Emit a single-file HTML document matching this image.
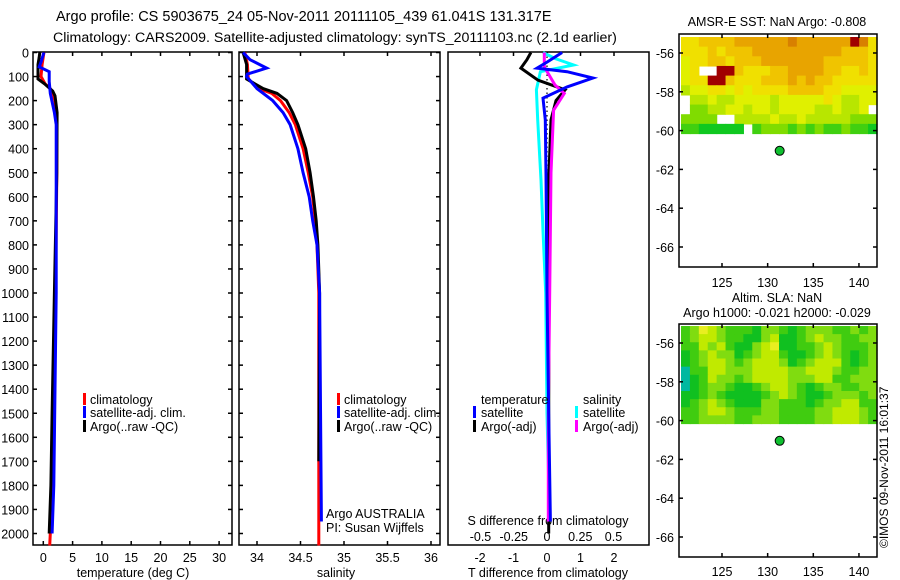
<!DOCTYPE html>
<html><head><meta charset="utf-8">
<style>
html,body{margin:0;padding:0;background:#fff;}
svg{display:block;font-family:"Liberation Sans",sans-serif;}
text{fill:#000;}
</style></head>
<body>
<svg id="fig" width="900" height="580" viewBox="0 0 900 580" xmlns="http://www.w3.org/2000/svg">
<text x="56" y="21" font-size="14.5">Argo profile: CS 5903675_24 05-Nov-2011 20111105_439 61.041S 131.317E</text>
<text x="53" y="42" font-size="14.2">Climatology: CARS2009. Satellite-adjusted climatology: synTS_20111103.nc (2.1d earlier)</text>
</svg>
<script>
// ---- data ----
const depthTicks=[0,100,200,300,400,500,600,700,800,900,1000,1100,1200,1300,1400,1500,1600,1700,1800,1900,2000];
const tempTicks=[0,5,10,15,20,25,30];
const salTicks=[34,34.5,35,35.5,36];
const tdTicks=[-2,-1,0,1,2];
const sdTicks=[-0.5,-0.25,0,0.25,0.5];
const lonTicks=[125,130,135,140];
const latTicks=[-56,-58,-60,-62,-64,-66];

const tClimDepth=[0,50,100,130,150,200,300,500,1000,1500,2000,2050];
const tClimVal=[0.1,-0.2,-0.4,0.3,1.2,2.0,2.3,2.3,2.1,1.6,1.2,1.1];
const tSatDepth=[0,40,60,80,120,170,250,300,600,1000,1400,1800,2000];
const tSatVal=[0.1,-0.4,-0.7,1.0,1.0,1.2,1.9,2.2,2.2,2.2,2.0,1.8,1.5];
const tArgoDepth=[0,20,50,110,130,160,180,250,500,1000,1500,1800,2000];
const tArgoVal=[-0.6,-0.7,-0.9,-0.9,0.2,1.6,2.0,2.35,2.3,1.9,1.5,1.3,1.0];

const sClimDepth=[0,50,110,150,170,200,250,300,400,500,600,700,800,1000,2000,2050];
const sClimVal=[33.86,33.89,33.9,34.02,34.17,34.27,34.37,34.44,34.53,34.59,34.64,34.67,34.69,34.71,34.71,34.71];
const sSatDepth=[0,30,65,90,100,150,200,250,300,400,500,600,700,800,1000,1950];
const sSatVal=[33.84,33.92,34.11,33.89,33.88,34.0,34.18,34.3,34.38,34.47,34.53,34.6,34.64,34.69,34.72,34.74];
const sArgoDepth=[0,50,110,150,170,200,250,300,400,500,600,700,800,1000,1700];
const sArgoVal=[33.84,33.88,33.88,34.07,34.23,34.34,34.41,34.47,34.56,34.61,34.65,34.68,34.7,34.72,34.71];

const dtSatDepth=[0,40,65,80,106,143,190,280,510,1000,1500,1950];
const dtSatVal=[0.45,0.0,-0.3,0.6,1.37,0.6,-0.12,-0.05,-0.03,0.0,0.05,0.1];
const dtArgoDepth=[0,30,65,115,155,200,280,500,1000,1500,2000];
const dtArgoVal=[-0.48,-0.6,-0.78,-0.27,0.54,0.27,0.12,0.06,0.06,0.05,0.05];
const dsSatDepth=[0,25,52,80,155,280,530,740,1000,1500,1950];
const dsSatVal=[-0.03,0.06,0.2,-0.05,-0.08,-0.07,-0.045,-0.03,-0.01,0.0,0.02];
const dsArgoDepth=[0,60,135,170,240,500,1000,1500,1950];
const dsArgoVal=[-0.02,-0.02,0.06,0.13,0.05,0.03,0.02,0.01,0.01];

const sstRows=[
"5566667777778777777985",
"5556566677777777776665",
"4556656667777777666665",
"45--996555667777665565",
"4559965556667676655555",
"3445545455556666554444",
"-334334444344444543344",
"-22334434434444334334",
"2222--3333433433333222",
"1100000-12221212112110"];
const slaRows=[
"2354322213321233322323",
"2344322113411234332233",
"2243421134511223432223",
"1234331234421123432123",
"1234432344431234442123",
"0224433344443344432233",
"0124332344443334422333",
"0123321123443212332233",
"1123211112343211233323",
"1234321113322212334422",
"2234432223322223344432",
"2233332233322223344432"];

// ---- helpers ----
const svg=document.getElementById('fig');
const NS='http://www.w3.org/2000/svg';
function mk(tag,attrs,parent){const e=document.createElementNS(NS,tag);for(const k in attrs)e.setAttribute(k,attrs[k]);(parent||svg).appendChild(e);return e;}
const yD=d=>52.5+d*0.2405;
const xT=v=>43.3+v*5.86;
const xS=v=>257+(v-34)*87;
const xDT=v=>547+v*33.5;
const xDS=v=>547+v*133;
function line(xf,dep,val,color,w,name,dash){
  const pts=dep.map((d,i)=>xf(val[i]).toFixed(1)+','+yD(d).toFixed(1)).join(' ');
  const p=mk('polyline',{points:pts,fill:'none',stroke:color,'stroke-width':w});
  if(dash)p.setAttribute('stroke-dasharray',dash);
  
  
}
function txt(x,y,s,size,anchor,name){
  const t=mk('text',{x:x,y:y,'font-size':size,'text-anchor':anchor||'start'});t.textContent=s;
  
  
  return t;
}
function box(x1,y1,x2,y2,name){
  const r=mk('rect',{x:x1,y:y1,width:x2-x1,height:y2-y1,fill:'none',stroke:'#000','stroke-width':1.5});
  
  
}
function tick(x1,y1,x2,y2){const l=mk('line',{x1:x1,y1:y1,x2:x2,y2:y2,stroke:'#000','stroke-width':1.5});
  
  }
function legBar(x,y,c){const r=mk('rect',{x:x,y:y,width:3,height:12,fill:c});
  
  }

// ---- panel 1: temperature ----
box(33,52,232,545,'temperature-axes');
depthTicks.forEach(d=>{tick(33,yD(d),37,yD(d));tick(228,yD(d),232,yD(d));txt(29,yD(d)+5,String(d),12.5,'end','depth-tick-label');});
tempTicks.forEach(v=>{tick(xT(v),52,xT(v),56);tick(xT(v),541,xT(v),545);txt(xT(v),562,String(v),12.5,'middle','temp-tick-label');});
txt(133,577,'temperature (deg C)',12.5,'middle','temperature-axis-title');
line(xT,tClimDepth,tClimVal,'#f00',3,'temp-climatology-line');
line(xT,tArgoDepth,tArgoVal,'#000',3,'temp-argo-line');
line(xT,tSatDepth,tSatVal,'#00f',3,'temp-satellite-line');
legBar(83,393,'#f00');txt(90,404,'climatology',12.5,'start','legend-climatology');
legBar(83,406,'#00f');txt(90,417,'satellite-adj. clim.',12.5,'start','legend-satellite');
legBar(83,420,'#000');txt(90,431,'Argo(..raw -QC)',12.5,'start','legend-argo');

// ---- panel 2: salinity ----
box(239,52,440,545,'salinity-axes');
depthTicks.forEach(d=>{tick(239,yD(d),243,yD(d));tick(436,yD(d),440,yD(d));});
salTicks.forEach(v=>{tick(xS(v),52,xS(v),56);tick(xS(v),541,xS(v),545);txt(xS(v),562,String(v),12.5,'middle','salinity-tick-label');});
txt(336,577,'salinity',12.5,'middle','salinity-axis-title');
line(xS,sClimDepth,sClimVal,'#f00',3,'sal-climatology-line');
line(xS,sArgoDepth,sArgoVal,'#000',3,'sal-argo-line');
line(xS,sSatDepth,sSatVal,'#00f',3,'sal-satellite-line');
legBar(337,393,'#f00');txt(344,404,'climatology',12.5,'start','legend-climatology');
legBar(337,406,'#00f');txt(344,417,'satellite-adj. clim.',12.5,'start','legend-satellite');
legBar(337,420,'#000');txt(344,431,'Argo(..raw -QC)',12.5,'start','legend-argo');
txt(326,518,'Argo AUSTRALIA',12.5,'start','argo-australia-label');
txt(326,532,'PI: Susan Wijffels',12.5,'start','pi-label');

// ---- panel 3: differences ----
box(448,52,649,545,'difference-axes');
tdTicks.forEach(v=>{tick(xDT(v),52,xDT(v),56);txt(xDT(v),562,String(v),12.5,'middle','tdiff-tick-label');});
sdTicks.forEach(v=>{txt(xDS(v),541,String(v),12.5,'middle','sdiff-tick-label');});
txt(548,577,'T difference from climatology',12.5,'middle','tdiff-axis-title');
txt(548,525,'S difference from climatology',12.5,'middle','sdiff-axis-title');
const zl=mk('line',{x1:547,y1:52,x2:547,y2:300,stroke:'#000','stroke-width':1.2,'stroke-dasharray':'1.5,3'});


line(xDS,dsSatDepth,dsSatVal,'#0ff',3,'sdiff-satellite-line');
line(xDT,dtArgoDepth,dtArgoVal,'#000',3,'tdiff-argo-line');
line(xDS,dsArgoDepth,dsArgoVal,'#f0f',3,'sdiff-argo-line');
line(xDT,dtSatDepth,dtSatVal,'#00f',3,'tdiff-satellite-line');
txt(481,404,'temperature',12.5,'start','legend-temperature-header');
legBar(473,406,'#00f');txt(481,417,'satellite',12.5,'start','legend-t-satellite');
legBar(473,420,'#000');txt(481,431,'Argo(-adj)',12.5,'start','legend-t-argo');
txt(583,404,'salinity',12.5,'start','legend-salinity-header');
legBar(575,406,'#0ff');txt(583,417,'satellite',12.5,'start','legend-s-satellite');
legBar(575,420,'#f0f');txt(583,431,'Argo(-adj)',12.5,'start','legend-s-argo');

// ---- maps ----
const sstCol=['#10c820','#40d010','#80dc00','#b8e600','#e0f000','#f0e000','#f0c400','#e8a400','#d88000','#a00000'];
const slaCol=['#00b8a0','#10c020','#40cc10','#80dc10','#c0ea00','#e8ee20'];
function heat(rows,cols,x0,y0,x1,y1,name){
  const nr=rows.length,nc=22,cw=(x1-x0)/nc,rh=(y1-y0)/nr;
  rows.forEach((r,i)=>{for(let j=0;j<nc;j++){const ch=r[j];if(ch===undefined||ch==='-')continue;
    const c=mk('rect',{x:(x0+j*cw).toFixed(2),y:(y0+i*rh).toFixed(2),width:(cw+0.6).toFixed(2),height:(rh+0.6).toFixed(2),fill:cols[+ch]});
    
    }});
}
function mapPanel(top){
  const yL=v=>top+19+(-56-v)*19.4;
  const xL=v=>722+(v-125)*9.13;
  return {yL,xL};
}
// top map
{
 const m=mapPanel(34);
 heat(sstRows,sstCol,681,37,877,m.yL(-60.15),'sst-cell');
 box(679,34,877,267,'sst-map-axes');
 latTicks.forEach(v=>{tick(679,m.yL(v),683,m.yL(v));tick(873,m.yL(v),877,m.yL(v));txt(674,m.yL(v)+5,String(v),12.5,'end','lat-tick-label');});
 lonTicks.forEach(v=>{tick(m.xL(v),34,m.xL(v),38);tick(m.xL(v),263,m.xL(v),267);txt(m.xL(v),287,String(v),12.5,'middle','lon-tick-label');});
 const d=mk('circle',{cx:m.xL(131.317),cy:m.yL(-61.041),r:4.5,fill:'#10c030',stroke:'#000','stroke-width':1});
 
 
 txt(777,26,'AMSR-E SST: NaN Argo: -0.808',12.5,'middle','sst-map-title');
}
// bottom map
{
 const m=mapPanel(324);
 heat(slaRows,slaCol,681,326,877,m.yL(-60.15),'sla-cell');
 box(679,324,877,557,'sla-map-axes');
 latTicks.forEach(v=>{tick(679,m.yL(v),683,m.yL(v));tick(873,m.yL(v),877,m.yL(v));txt(674,m.yL(v)+5,String(v),12.5,'end','lat-tick-label');});
 lonTicks.forEach(v=>{tick(m.xL(v),324,m.xL(v),328);tick(m.xL(v),553,m.xL(v),557);txt(m.xL(v),576,String(v),12.5,'middle','lon-tick-label');});
 const d=mk('circle',{cx:m.xL(131.317),cy:m.yL(-61.041),r:4.5,fill:'#10c030',stroke:'#000','stroke-width':1});
 
 
 txt(777,302,'Altim. SLA: NaN',12.5,'middle','sla-map-title');
 txt(777,317,'Argo h1000: -0.021 h2000: -0.029',12.5,'middle','sla-map-subtitle');
}
const cp=txt(0,0,'©IMOS 09-Nov-2011 16:01:37',12,'start','copyright-label');
cp.setAttribute('transform','translate(888,548) rotate(-90)');
</script>
</body></html>
